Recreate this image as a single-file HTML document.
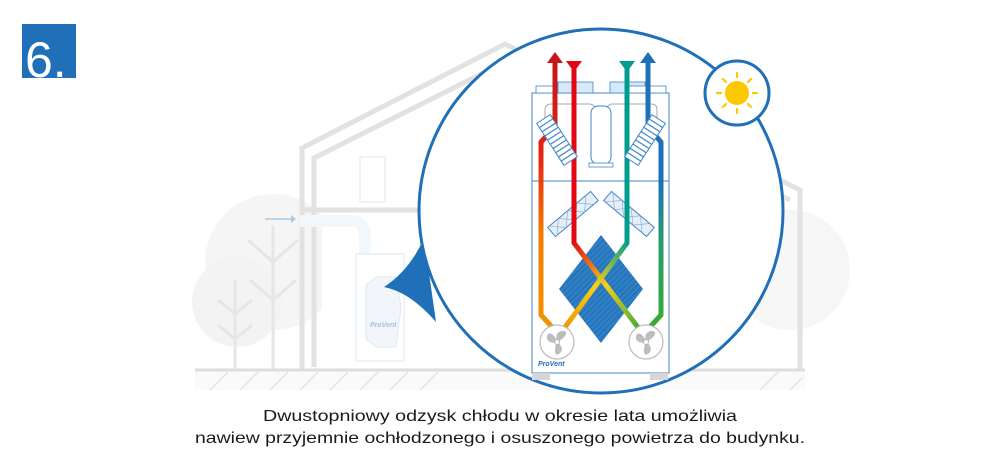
<!DOCTYPE html>
<html><head><meta charset="utf-8"><style>
body{margin:0;background:#fff;width:1000px;height:470px;overflow:hidden;font-family:"Liberation Sans",sans-serif}
</style></head><body>
<svg width="1000" height="470" viewBox="0 0 1000 470" xmlns="http://www.w3.org/2000/svg">
<defs>
<linearGradient id="gL" x1="0" y1="0" x2="0" y2="1"><stop offset="0" stop-color="#c4161c"/><stop offset="0.35" stop-color="#e42313"/><stop offset="0.65" stop-color="#ef7d00"/><stop offset="1" stop-color="#f39200"/></linearGradient>
<linearGradient id="gR" x1="0" y1="0" x2="0" y2="1"><stop offset="0" stop-color="#1d71b8"/><stop offset="0.45" stop-color="#1d71b8"/><stop offset="0.7" stop-color="#2a9d6a"/><stop offset="1" stop-color="#3aaa35"/></linearGradient>
<linearGradient id="gX1" x1="574" y1="240" x2="640" y2="330" gradientUnits="userSpaceOnUse"><stop offset="0" stop-color="#e30613"/><stop offset="0.5" stop-color="#f7d117"/><stop offset="1" stop-color="#3aaa35"/></linearGradient>
<linearGradient id="gX2" x1="627" y1="240" x2="562" y2="330" gradientUnits="userSpaceOnUse"><stop offset="0" stop-color="#009d8f"/><stop offset="0.5" stop-color="#f7d117"/><stop offset="1" stop-color="#f39200"/></linearGradient>
<pattern id="dia" width="4" height="4" patternUnits="userSpaceOnUse" patternTransform="rotate(45)"><rect width="4" height="4" fill="#2f7fc6"/><line x1="0" y1="0" x2="0" y2="4" stroke="#1d64a8" stroke-width="1.5"/></pattern>
<clipPath id="bc"><rect x="22" y="24" width="60" height="54"/></clipPath>
</defs>
<!-- badge -->
<rect x="22" y="24" width="54" height="54" fill="#1f6fb9"/>
<text x="25" y="77" font-size="50" fill="#fff" clip-path="url(#bc)">6.</text>
<!-- trees -->
<circle cx="273" cy="262" r="68" fill="#f5f5f5"/>
<circle cx="237" cy="302" r="45" fill="#f3f3f3"/>
<g stroke="#e6e6e6" stroke-width="3" fill="none">
<path d="M273 225V370M248 240l25 22 25-22M250 280l23 20 23-20"/>
<path d="M235 280V370M218 300l17 14 17-14M218 325l17 14 17-14"/>
</g>
<circle cx="790" cy="270" r="60" fill="#f6f6f6"/>
<!-- house -->
<g stroke="#e2e2e2" stroke-width="5" fill="none">
<path d="M302 370V148L505 44L800 190V370"/>
<path d="M314 367V158L505 62L790 200"/>
<path d="M302 210H460"/>
</g>
<rect x="360" y="157" width="25" height="45" fill="none" stroke="#eee" stroke-width="1.5"/>
<rect x="322" y="213" width="110" height="157" fill="#fff"/>
<path d="M265 219h30" stroke="#a8cbe8" stroke-width="1.5"/>
<path d="M291 215l5 4-5 4" fill="#a8cbe8"/>
<path d="M300 221h50q15 0 15 15v22" stroke="#f2f7fb" stroke-width="12" fill="none"/>
<rect x="356" y="254" width="48" height="107" fill="#fff" stroke="#d8e8f4" stroke-width="1"/>
<path d="M366 285l10-8h20l5 30-5 40h-20l-10-8z" fill="#f2f6fa" stroke="#dde8f2"/>
<text x="370" y="327" font-size="7" fill="#9cc3e3" font-style="italic" font-weight="bold">ProVent</text>
<!-- ground -->
<rect x="195" y="370" width="610" height="20" fill="#fafafa"/>
<path d="M195 370H805" stroke="#ddd" stroke-width="3"/>
<g stroke="#e4e4e4" stroke-width="1.5">
<path d="M210 390l18-18M240 390l18-18M270 390l18-18M300 390l18-18M330 390l18-18M360 390l18-18M390 390l18-18M420 390l18-18M760 390l18-18M790 390l12-12"/>
</g>
<!-- pointer -->
<path d="M384 287Q410 270 424 238L436 322Q410 292 384 287z" fill="#1f6fb9"/>
<!-- main circle -->
<circle cx="601" cy="211" r="182" fill="#fff" stroke="#1f6fb9" stroke-width="3"/>
<!-- unit -->
<rect x="532" y="93" width="137" height="280" fill="#fff" stroke="#3f86c8" stroke-width="1"/>
<path d="M532 181H669" stroke="#3f86c8" stroke-width="1"/>
<rect x="536" y="86" width="36" height="7" fill="#fff" stroke="#3f86c8" stroke-width="0.8"/>
<rect x="558" y="82" width="35" height="11" fill="#d6e9f8" stroke="#3f86c8" stroke-width="0.8"/>
<rect x="610" y="82" width="35" height="11" fill="#d6e9f8" stroke="#3f86c8" stroke-width="0.8"/>
<rect x="628" y="86" width="38" height="7" fill="#fff" stroke="#3f86c8" stroke-width="0.8"/>
<path d="M545 130V110q0-6 6-6h38q6 0 6 6M607 110q0-6 6-6h38q6 0 6 6v20" stroke="#aaa" stroke-width="1" fill="none"/>
<rect x="591" y="106" width="20" height="58" rx="7" fill="#fff" stroke="#3f86c8" stroke-width="1"/>
<rect x="589" y="163" width="24" height="4" fill="#fff" stroke="#3f86c8" stroke-width="0.8"/>
<rect x="532" y="373" width="18" height="7" fill="#d6d6d6"/><rect x="650" y="373" width="18" height="7" fill="#d6d6d6"/>
<!-- diamond -->
<path d="M601 235L643 289L601 343L559 289z" fill="url(#dia)"/>
<!-- middle filters -->
<g transform="translate(573,214) rotate(-40)"><rect x="-28" y="-6" width="56" height="12" fill="#e6eef6" stroke="#3f86c8" stroke-width="1"/><path d="M-26-6l12 12M-14-6l12 12M-2-6l12 12M10-6l12 12M-14-6l-12 12M-2-6l-12 12M10-6l-12 12M22-6l-12 12" stroke="#7aa9d4" stroke-width="0.6"/></g>
<g transform="translate(629,214) rotate(40)"><rect x="-28" y="-6" width="56" height="12" fill="#e6eef6" stroke="#3f86c8" stroke-width="1"/><path d="M-26-6l12 12M-14-6l12 12M-2-6l12 12M10-6l12 12M-14-6l-12 12M-2-6l-12 12M10-6l-12 12M22-6l-12 12" stroke="#7aa9d4" stroke-width="0.6"/></g>
<!-- paths -->
<g fill="none" stroke-width="5" stroke-linejoin="round">
<path d="M555 62V127L541 142V315L552 327" stroke="url(#gL)"/>
<path d="M648 62V127L661 142V315L650 327" stroke="url(#gR)"/>
<path d="M574 65V243L640 330" stroke="url(#gX1)"/>
<path d="M627 65V243L563 330" stroke="url(#gX2)"/>
</g>
<!-- top arrows -->
<path d="M555 52l-8 11h16z" fill="#c4161c"/>
<path d="M574 72l-8-11h16z" fill="#e30613"/>
<path d="M627 72l-8-11h16z" fill="#009d8f"/>
<path d="M648 52l-8 11h16z" fill="#1d71b8"/>
<!-- top filters -->
<g transform="translate(557,140) rotate(-33)"><rect x="-8" y="-25" width="16" height="50" fill="#fff" stroke="#3f86c8" stroke-width="1"/><path d="M-8-20h16M-8-15h16M-8-10h16M-8-5h16M-8 0h16M-8 5h16M-8 10h16M-8 15h16M-8 20h16" stroke="#3f86c8" stroke-width="1.2"/></g>
<g transform="translate(645,140) rotate(33)"><rect x="-8" y="-25" width="16" height="50" fill="#fff" stroke="#3f86c8" stroke-width="1"/><path d="M-8-20h16M-8-15h16M-8-10h16M-8-5h16M-8 0h16M-8 5h16M-8 10h16M-8 15h16M-8 20h16" stroke="#3f86c8" stroke-width="1.2"/></g>
<!-- fans -->
<g id="fan"><circle cx="557" cy="342" r="17" fill="#fff" stroke="#bbb" stroke-width="1.2"/>
<path d="M557 342c-2-6 0-11 6-11s3 7-6 11zM557 342c5 3 7 9 2 12s-5-6-2-12zM557 342c-6 2-11-1-10-6s8-2 10 6z" fill="#bdbdbd"/><circle cx="557" cy="342" r="2.5" fill="#fff" stroke="#aaa" stroke-width="0.8"/></g>
<use href="#fan" x="89"/>
<text x="538" y="366" font-size="7" fill="#1f6fb9" font-style="italic" font-weight="bold">ProVent</text>
<!-- sun -->
<circle cx="737" cy="93" r="32" fill="#fff" stroke="#1f6fb9" stroke-width="3"/>
<circle cx="737" cy="93" r="12" fill="#fcc900"/>
<g stroke="#fcc900" stroke-width="2.2" stroke-linecap="round">
<path d="M737 73v4M737 109v4M717 93h4M753 93h4M723 79l3 3M748 104l3 3M751 79l-3 3M726 104l-3 3"/>
</g>
<!-- caption -->
<text x="263" y="421" font-size="16" fill="#1a1a1a" textLength="474" lengthAdjust="spacingAndGlyphs">Dwustopniowy odzysk chłodu w okresie lata umożliwia</text>
<text x="195" y="443" font-size="16" fill="#1a1a1a" textLength="610" lengthAdjust="spacingAndGlyphs">nawiew przyjemnie ochłodzonego i osuszonego powietrza do budynku.</text>
</svg>
</body></html>
